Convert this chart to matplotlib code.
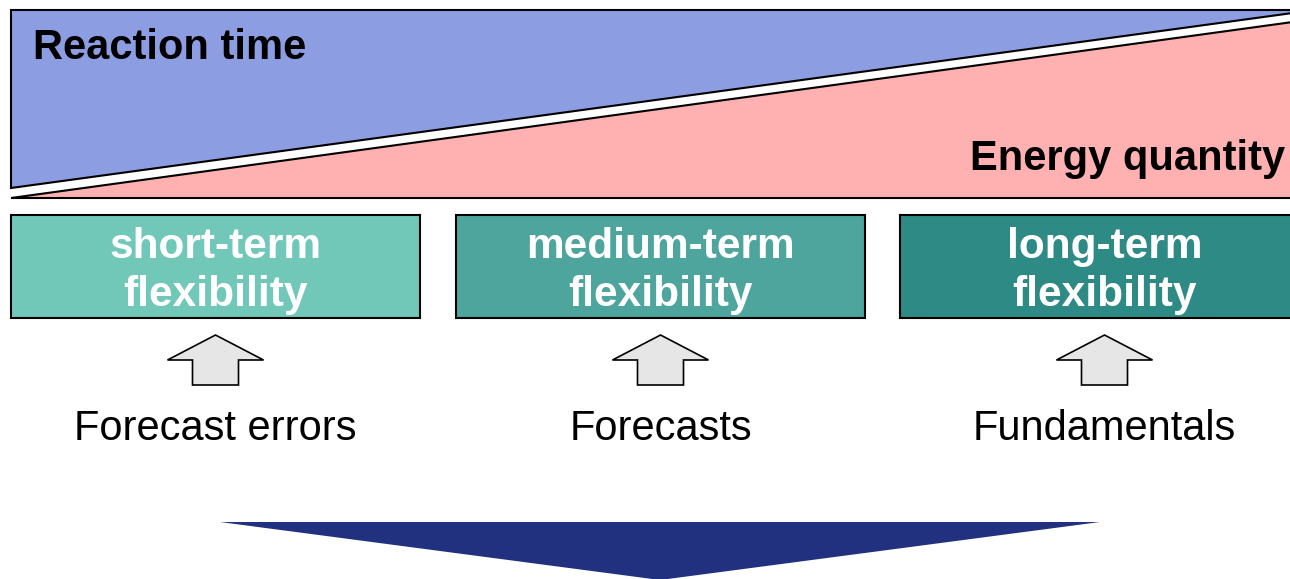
import matplotlib.pyplot as plt
from matplotlib.patches import Polygon, Rectangle

plt.rcParams['font.family'] = ['Liberation Sans', 'DejaVu Sans']

# flexibility categories and the drivers underneath them
categories = ['short-term\nflexibility', 'medium-term\nflexibility', 'long-term\nflexibility']
drivers = ['Forecast errors', 'Forecasts', 'Fundamentals']
box_colors = ['#72c8b8', '#4ea59e', '#2e8a84']
box_left = [11, 456, 900]
box_width = 409

W, H = 1290, 579
fig = plt.figure(figsize=(W / 100, H / 100), dpi=100)
ax = fig.add_axes([0, 0, 1, 1])
ax.set_xlim(0, W)
ax.set_ylim(H, 0)
ax.axis('off')

# reaction time wedge (blue) and energy quantity wedge (pink)
blue = Polygon([(11, 10), (1300, 10), (1300, 12), (11, 188)], closed=True,
               facecolor='#8c9de2', edgecolor='black', lw=1.5)
pink = Polygon([(11, 198), (1300, 21), (1300, 198)], closed=True,
               facecolor='#ffb0b0', edgecolor='black', lw=1.5)
ax.add_patch(blue)
ax.add_patch(pink)
ax.text(33, 48, 'Reaction time', fontsize=30, fontweight='bold', va='center', ha='left')
ax.text(970, 159, 'Energy quantity', fontsize=30, fontweight='bold', va='center', ha='left')

for left, label, color, drv in zip(box_left, categories, box_colors, drivers):
    cx = left + box_width / 2
    ax.add_patch(Rectangle((left, 215), box_width, 103, facecolor=color,
                           edgecolor='black', lw=1.5))
    ax.text(cx, 271, label, fontsize=30.5, fontweight='bold', color='white',
            ha='center', va='center', linespacing=1.29)
    # small up arrow from driver to box
    arrow = [(cx, 335), (cx + 48, 360), (cx + 23, 360), (cx + 23, 385),
             (cx - 23, 385), (cx - 23, 360), (cx - 48, 360)]
    ax.add_patch(Polygon(arrow, closed=True, facecolor='#e6e6e6',
                         edgecolor='black', lw=1.2))
    ax.text(cx, 429, drv, fontsize=30, ha='center', va='center')

# large downward arrow at the bottom
ax.add_patch(Polygon([(220, 522), (1100, 522), (660, 580)], closed=True,
                     facecolor='#21317f', edgecolor='none'))

fig.savefig('out.png', dpi=100)
